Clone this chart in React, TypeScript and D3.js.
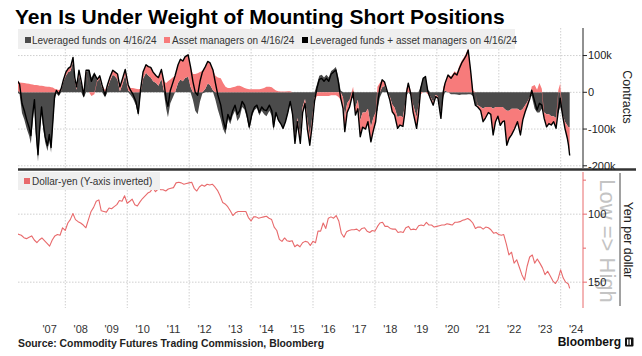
import React from "react";
import * as d3 from "d3";

// ---- Positioning data (thousands of contracts), CFTC weekly readings ----
const cotDates = [
  "2006-06-13","2006-07-11","2006-08-08","2006-09-05","2006-10-03","2006-10-31","2006-11-21","2006-12-12",
  "2007-01-02","2007-01-23","2007-02-13","2007-03-06","2007-03-27","2007-04-17","2007-05-08","2007-06-05","2007-06-26","2007-07-17","2007-08-07","2007-08-28","2007-09-18","2007-10-16","2007-11-13","2007-12-11",
  "2008-01-08","2008-02-05","2008-03-04","2008-04-01","2008-04-22","2008-05-13","2008-06-10","2008-07-08","2008-08-05","2008-09-02","2008-10-07","2008-11-04","2008-12-09",
  "2009-01-13","2009-02-10","2009-03-10","2009-04-14","2009-05-12","2009-06-09","2009-07-14","2009-08-11","2009-09-08","2009-10-06","2009-11-03","2009-12-08",
  "2010-01-12","2010-02-09","2010-03-09","2010-04-13","2010-05-11","2010-06-08","2010-07-06","2010-08-10","2010-09-07","2010-10-05","2010-11-02","2010-12-07",
  "2011-01-04","2011-02-08","2011-03-08","2011-04-05","2011-04-26","2011-05-24","2011-06-21","2011-07-19","2011-08-23","2011-09-20","2011-10-18","2011-11-15","2011-12-20",
  "2012-01-17","2012-02-14","2012-03-13","2012-04-10","2012-05-08","2012-06-05","2012-07-10","2012-08-07","2012-09-04","2012-10-09","2012-11-06","2012-12-04",
  "2013-01-08","2013-02-05","2013-03-05","2013-04-02","2013-04-30","2013-05-28","2013-06-25","2013-07-23","2013-08-20","2013-09-17","2013-10-15","2013-11-12","2013-12-10",
  "2014-01-14","2014-02-11","2014-03-11","2014-04-08","2014-05-06","2014-06-03","2014-07-01","2014-08-05","2014-09-02","2014-09-23","2014-10-21","2014-11-18","2014-12-16",
  "2015-01-13","2015-02-10","2015-03-10","2015-04-07","2015-05-05","2015-06-02","2015-06-30","2015-08-04","2015-09-01","2015-09-29","2015-10-27","2015-11-24","2015-12-22",
  "2016-01-19","2016-02-16","2016-03-15","2016-04-12","2016-05-10","2016-06-07","2016-07-05","2016-08-02","2016-08-30","2016-09-27","2016-10-25","2016-11-22","2016-12-20",
  "2017-01-10","2017-02-07","2017-03-07","2017-04-18","2017-05-16","2017-06-13","2017-07-11","2017-08-08","2017-09-12","2017-10-10","2017-11-14","2017-12-12",
  "2018-01-09","2018-01-30","2018-02-27","2018-03-27","2018-04-24","2018-05-29","2018-06-26","2018-07-24","2018-08-21","2018-09-25","2018-10-23","2018-11-27","2018-12-18",
  "2019-01-08","2019-01-29","2019-02-26","2019-03-26","2019-05-07","2019-05-28","2019-06-25","2019-07-23","2019-08-20","2019-09-17","2019-10-15","2019-11-19","2019-12-17",
  "2020-01-14","2020-02-18","2020-03-17","2020-04-07","2020-05-12","2020-06-16","2020-07-28","2020-08-25","2020-09-22","2020-10-20","2020-11-17","2020-12-15",
  "2021-01-05","2021-02-02","2021-03-02","2021-03-30","2021-04-27","2021-06-01","2021-06-29","2021-07-27","2021-08-31","2021-09-28","2021-10-26","2021-11-23","2021-12-21",
  "2022-01-18","2022-02-15","2022-03-08","2022-04-05","2022-05-03","2022-05-31","2022-07-05","2022-08-09","2022-09-13","2022-10-11","2022-11-08","2022-12-06",
  "2023-01-03","2023-01-24","2023-02-28","2023-03-28","2023-04-25","2023-05-23","2023-06-20","2023-07-18","2023-08-15","2023-09-12","2023-10-10","2023-11-07","2023-12-05","2023-12-26",
  "2024-01-23","2024-02-20","2024-03-19","2024-04-02","2024-04-16",
];

const leveragedFunds = [
  6,-5,-56,-75,-99,-118,-140,-81,
  -40,-130,-189,-113,-58,-102,-136,-160,-130,-164,-93,-20,-3,-11,5,30,
  45,55,58,85,32,7,50,22,-15,55,60,40,55,
  30,37,12,-14,12,30,48,43,35,3,20,47,
  5,-7,-17,-35,-65,0,37,53,45,40,30,25,
  18,37,5,-45,-68,-30,-15,0,25,35,30,39,42,
  15,-20,-50,-60,-25,-3,10,24,20,5,-20,-47,
  -73,-100,-115,-72,-87,-64,-50,-78,-68,-40,-47,-70,-102,
  -63,-48,-43,-63,-50,-60,-65,-50,-64,-104,-60,-78,-87,
  -100,-82,-58,-28,-60,-134,-70,-119,-40,-18,-75,-119,-70,
  -15,21,45,48,40,48,40,58,63,69,42,5,-14,
  -67,-30,-20,-15,-42,-20,-76,-55,-55,-45,-95,-70,
  -55,-50,-14,14,18,0,-12,-33,-42,-68,-64,-68,-38,
  -10,0,-8,-33,-68,-37,16,38,43,7,-11,-27,-7,
  -11,-63,-13,5,0,-5,-5,-6,-7,-6,-6,-6,
  -5,-5,-10,-35,-35,-40,-45,-40,-40,-40,-45,-40,-40,
  -40,-40,-45,-50,-50,-45,-45,-45,-50,-45,-35,-25,
  -12,-10,-45,-55,-55,-45,-55,-60,-60,-65,-65,-70,-55,-40,
  -60,-80,-90,-95,-95,
];

const assetManagers = [
  26,27,26,25,24,23,22,21,
  20,20,19,18,18,17,16,15,15,14,13,10,8,6,5,5,
  10,10,12,10,8,8,10,8,5,5,0,-10,-5,
  5,8,8,6,8,10,12,12,15,12,15,15,
  15,12,12,10,8,10,18,22,25,28,25,20,
  22,25,25,25,30,35,40,45,50,55,55,58,60,
  55,50,50,52,55,58,60,60,60,55,45,40,
  38,25,15,12,12,14,15,18,18,15,12,10,8,
  8,8,8,8,10,12,15,15,14,10,5,3,2,
  2,2,3,3,0,-5,-10,-20,-15,-12,-25,-25,-20,
  -10,-10,-10,-10,-10,-10,-10,-8,-8,-8,-12,-20,-30,
  -40,-25,-20,15,-20,-25,-45,-40,-45,-35,-40,-35,
  -25,15,25,20,10,0,-10,-20,-20,-30,-25,-25,-20,
  10,25,5,-20,-30,-25,-5,0,0,-5,-5,-8,-5,
  -5,-8,15,20,47,43,57,53,72,86,96,108,
  120,65,5,0,-5,-10,-35,-30,-15,-20,-71,-40,-25,
  -50,-40,-33,-94,-75,-71,-55,-35,-66,-30,-18,-10,
  -4,16,20,7,25,10,-16,-34,-25,-24,-15,-28,7,24,
  -2,-18,-35,-49,-77,
];

// ---- Dollar-yen, monthly closes from Jun 2006 to Apr 2024 ----
const usdJpyFirstDate = "2006-06-13";
const usdJpyLastDate = "2024-04-16";
const usdJpy = [
  114.5,115.5,117.3,118,117,116,119,
  121,119,117.5,119.5,121.5,123.5,119,116,115,115.5,110,112,
  106.5,104,99.5,104,105.5,106.5,108,110,104,98,95,90.5,
  89.5,97.5,98,98.5,95.5,96,94.5,93,90,90.5,86.5,92,
  90.5,89,93,94,91,88.5,86.5,84.5,83.5,80.5,83.5,81.5,
  82,82,83,81.5,81,80.5,77,76.5,77,78,77.5,77,
  76.5,81,83,80,78.5,79.5,78,78.5,78,80,82.5,86.5,
  91.5,92.5,94.5,97.5,101,99,98,98,98,98,102.5,105,
  102,102,103,102.5,102,101.5,103,104,109.5,112,118.5,120,
  117.5,119.5,120,119.5,124,122.5,124,121,120,120.5,123,120,
  121,112.5,112.5,106.5,110.5,103,102,103,101,105,114,117,
  113,112,111.5,111.5,111,112.5,110.5,110,112.5,113.5,112,112.5,
  109,106.5,106,109,109,110.5,111,111,113.5,113,113.5,110,
  109,111.5,111,111.5,108.5,108,108.5,106,108,108,109.5,109,
  108.5,108,108,107,107.5,108,106,106,105.5,104.5,104,103.2,
  104.5,106.5,110.5,109.5,109.5,111,109.5,110,111.5,114,113.5,115,
  115.5,115,122,130,128,136,133.5,139,144.5,148.5,138.5,131.5,
  130,136,133,136,139.5,144.5,142,145.5,149,151,148,141,
  147,150,151.3,154.6,
];

const gridYears = [2008, 2010, 2012, 2014, 2016, 2018, 2020, 2022, 2024];
const labelYears = [2007,2008,2009,2010,2011,2012,2013,2014,2015,2016,2017,2018,2019,2020,2021,2022,2023,2024];
const yearLabels = ["'07","'08","'09","'10","'11","'12","'13","'14","'15","'16","'17","'18","'19","'20","'21","'22","'23","'24"];
const topTicks = [100, 0, -100, -200];
const topTickLabels = ["100k", "0", "-100k", "-200k"];
const yenTicks = [100, 150];
const yenMinorTicks = [75, 125];

const FONT = "'Liberation Sans', Arial, sans-serif";
const GRAY = "#4b4b4b";
const PINK = "#f77b7b";
const RED = "#e86a6c";

export default function App() {
  const W = 642, H = 356;
  const plotL = 18, plotR = 583;
  const topY0 = 28, topY1 = 168, botY0 = 172, botY1 = 308;
  const parse = d3.timeParse("%Y-%m-%d");

  const x = d3.scaleTime()
    .domain([new Date(2008, 0, 1), new Date(2024, 0, 1)])
    .range([65.3, 560.7]);
  const yTop = d3.scaleLinear().domain([-206, 175]).range([topY1, topY0]);
  const yBot = d3.scaleLinear().domain([69, 169]).range([botY0, botY1]);

  const rows = cotDates.map((d, i) => ({ date: parse(d) as Date, lf: leveragedFunds[i], am: assetManagers[i] }));
  const stack = d3.stack<any>().keys(["lf", "am"]).offset(d3.stackOffsetDiverging);
  const series = stack(rows as any);
  const area = d3.area<any>()
    .x((d) => x(d.data.date))
    .y0((d) => yTop(d[0]))
    .y1((d) => yTop(d[1]));
  const sumLine = d3.line<any>().x((d) => x(d.date)).y((d) => yTop(d.lf + d.am));

  const yenRows = usdJpy.map((v, i) => {
    let date: Date;
    if (i === 0) date = parse(usdJpyFirstDate) as Date;
    else if (i === usdJpy.length - 1) date = parse(usdJpyLastDate) as Date;
    else date = new Date(2006, 5 + i + 1, 0);
    return { date, v };
  });
  const yenLine = d3.line<any>().x((d) => x(d.date)).y((d) => yBot(d.v));

  const dot = { stroke: "#cfcfcf", strokeWidth: 1, strokeDasharray: "1.5,1.5" };

  return (
    <svg width={W} height={H} viewBox={`0 0 ${W} ${H}`} style={{ display: "block", position: "absolute", left: 0, top: 0, background: "#fff" }} fontFamily={FONT}>
      <defs>
        <clipPath id="clipTop"><rect x={plotL} y={topY0} width={plotR - plotL} height={topY1 - topY0} /></clipPath>
        <clipPath id="clipBot"><rect x={plotL} y={botY0} width={plotR - plotL} height={botY1 - botY0} /></clipPath>
      </defs>
      <rect x={0} y={0} width={W} height={H} fill="#fff" />

      {/* Title */}
      <text x={15} y={24} fontSize={21} fontWeight={700} fill="#000">Yen Is Under Weight of Mounting Short Positions</text>

      {/* vertical grid */}
      {gridYears.map((yr) => (
        <line key={yr} x1={x(new Date(yr, 0, 1))} x2={x(new Date(yr, 0, 1))} y1={topY0} y2={botY1} {...dot} />
      ))}
      {/* horizontal grids */}
      {topTicks.map((t) => (
        <line key={t} x1={plotL} x2={plotR} y1={yTop(t)} y2={yTop(t)} {...dot} />
      ))}
      {yenTicks.map((t) => (
        <line key={t} x1={plotL} x2={plotR} y1={yBot(t)} y2={yBot(t)} {...dot} />
      ))}

      {/* top panel data */}
      <g clipPath="url(#clipTop)">
        {series.map((s: any) => (
          <path key={s.key} d={area(s) || ""} fill={s.key === "lf" ? GRAY : PINK} />
        ))}
        <path d={sumLine(rows) || ""} fill="none" stroke="#000" strokeWidth={1.4} strokeLinejoin="round" />
      </g>

      {/* bottom panel data */}
      <g clipPath="url(#clipBot)">
        <path d={yenLine(yenRows) || ""} fill="none" stroke={RED} strokeWidth={1.1} strokeLinejoin="round" />
      </g>

      {/* top legend */}
      <rect x={18} y={29} width={497} height={20} fill="#efefef" />
      <rect x={25} y={37} width={6} height={6} fill={GRAY} />
      <text x={32} y={43.5} fontSize={10} fill="#333">Leveraged funds on 4/16/24</text>
      <rect x={164} y={37} width={6} height={6} fill={PINK} />
      <text x={172} y={43.5} fontSize={10} fill="#333">Asset managers on 4/16/24</text>
      <rect x={302} y={37} width={6} height={6} fill="#000" />
      <text x={310} y={43.5} fontSize={10} fill="#333">Leveraged funds + asset managers on 4/16/24</text>

      {/* bottom legend */}
      <rect x={18} y={172} width={142} height={18} fill="#efefef" />
      <rect x={24} y={178} width={6} height={6} fill={RED} />
      <text x={32} y={184.5} fontSize={10} fill="#333">Dollar-yen (Y-axis inverted)</text>

      {/* Separator */}
      <line x1={18} x2={636} y1={169.5} y2={169.5} stroke="#333" strokeWidth={2.5} />

      {/* right axis top */}
      <line x1={plotR} x2={plotR} y1={topY0} y2={topY1} stroke="#222" strokeWidth={1} />
      {topTicks.map((t, i) => (
        <g key={t}>
          <line x1={plotR} x2={plotR + 4} y1={yTop(t)} y2={yTop(t)} stroke="#222" />
          <text x={plotR + 5} y={yTop(t)} dy="0.35em" fontSize={11} fill="#222">{topTickLabels[i]}</text>
        </g>
      ))}
      <text transform={`translate(627,97) rotate(90)`} textAnchor="middle" dominantBaseline="central" fontSize={12.5} fill="#222">Contracts</text>

      {/* right axis bottom */}
      <text transform={`translate(607,241) rotate(90)`} textAnchor="middle" dominantBaseline="central" fontSize={22} fill="#c4c4c4">Low =&gt; High</text>
      <line x1={plotR} x2={plotR} y1={botY0} y2={botY1} stroke={RED} strokeWidth={1} />
      {yenTicks.map((t) => (
        <g key={t}>
          <line x1={plotR} x2={plotR + 4} y1={yBot(t)} y2={yBot(t)} stroke={RED} />
          <text x={plotR + 5} y={yBot(t)} dy="0.35em" fontSize={11} fill="#222">{t}</text>
        </g>
      ))}
      {yenMinorTicks.map((t) => (
        <line key={t} x1={plotR} x2={plotR + 3} y1={yBot(t)} y2={yBot(t)} stroke={RED} />
      ))}
      <line x1={620} x2={620} y1={173} y2={306} stroke="#444" strokeWidth={1} />
      <text transform={`translate(628,240) rotate(90)`} textAnchor="middle" dominantBaseline="central" fontSize={12.5} fill="#222">Yen per dollar</text>

      {/* x-axis labels */}
      {labelYears.map((yr, i) => (
        <text key={yr} x={x(new Date(yr, 6, 1))} y={332.5} textAnchor="middle" fontSize={11} fill="#333">{yearLabels[i]}</text>
      ))}

      {/* footer */}
      <text x={18} y={347} fontSize={10.4} fontWeight={700} fill="#222">Source: Commodity Futures Trading Commission, Bloomberg</text>
      <text x={621} y={345.5} textAnchor="end" fontSize={12} fontWeight={600} fill="#111">Bloomberg</text>
      <rect x={625} y={337.5} width={8.5} height={9} rx={1} fill="#111" />
      <rect x={627} y={339.3} width={1.4} height={5.5} fill="#fff" />
      <rect x={629.6} y={339.3} width={1.4} height={5.5} fill="#fff" />
    </svg>
  );
}
